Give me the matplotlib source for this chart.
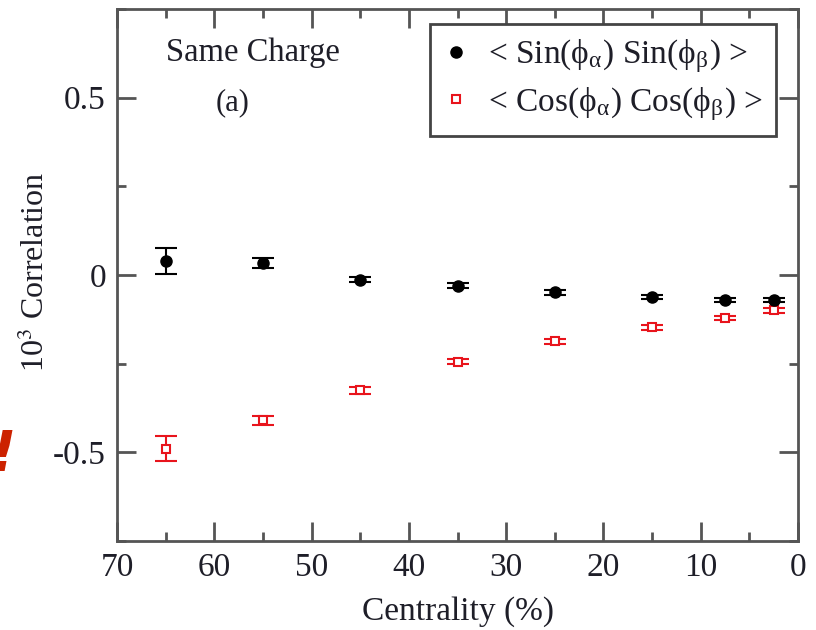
import numpy as np
import matplotlib
matplotlib.use("Agg")
import matplotlib.pyplot as plt
from matplotlib.lines import Line2D
from matplotlib.ticker import MultipleLocator

plt.rcParams['font.family'] = ['Liberation Serif', 'DejaVu Serif']
plt.rcParams['mathtext.fontset'] = 'stix'

# data
centrality = np.array([65, 55, 45, 35, 25, 15, 7.5, 2.5])
sin_sin = np.array([0.040, 0.035, -0.013, -0.030, -0.048, -0.063, -0.070, -0.070])
sin_err = np.array([0.036, 0.014, 0.008, 0.007, 0.007, 0.006, 0.006, 0.006])
cos_cos = np.array([-0.490, -0.410, -0.325, -0.245, -0.187, -0.148, -0.122, -0.100])
cos_err = np.array([0.035, 0.013, 0.010, 0.007, 0.007, 0.007, 0.006, 0.006])

ink = '#1e1e28'
red = '#e8141c'

fig = plt.figure(figsize=(8.16, 6.3), dpi=100)
ax = fig.add_axes([0.1434, 0.1413, 0.8346, 0.8444])

ax.errorbar(centrality, cos_cos, yerr=cos_err, fmt='s', ms=6, mfc='white', mec=red,
            mew=1.5, ecolor=red, elinewidth=1.5, capsize=8, capthick=1.5, zorder=3)
ax.errorbar(centrality, sin_sin, yerr=sin_err, fmt='o', ms=8, color='black',
            ecolor='black', elinewidth=1.5, capsize=8, capthick=1.5, zorder=4)

ax.set_xlim(70, 0)
ax.set_ylim(-0.75, 0.75)
ax.xaxis.set_major_locator(MultipleLocator(10))
ax.xaxis.set_minor_locator(MultipleLocator(5))
ax.yaxis.set_major_locator(MultipleLocator(0.5))
ax.yaxis.set_minor_locator(MultipleLocator(0.25))
ax.yaxis.set_major_formatter(plt.FuncFormatter(lambda v, p: '0' if v == 0 else f'{v:g}'))

ax.tick_params(which='both', direction='in', top=True, right=True, color='#555555',
               width=2, labelsize=24, labelcolor=ink, pad=8)
ax.tick_params(which='major', length=14)
ax.tick_params(which='minor', length=6.5)
for s in ax.spines.values():
    s.set_linewidth(2)
    s.set_color('#555555')

ax.set_xlabel('Centrality (%)', fontsize=24, color=ink, labelpad=10)
ax.set_ylabel(r'10$^3$ Correlation', fontsize=23, color=ink, va='center')
ax.yaxis.set_label_coords(-0.119, 0.506)

ax.text(0.199, 0.917, 'Same Charge', transform=ax.transAxes, fontsize=23.5,
        color=ink, ha='center', va='center')
ax.text(0.169, 0.823, '(a)', transform=ax.transAxes, fontsize=22,
        color=ink, ha='center', va='center')

handles = [
    Line2D([], [], ls='none', marker='o', ms=8, color='black'),
    Line2D([], [], ls='none', marker='s', ms=6, mfc='white', mec=red, mew=1.5),
]
labels = [r'< Sin(ϕ$_{\mathregular{α}}$) Sin(ϕ$_{\mathregular{β}}$) >',
          r'< Cos(ϕ$_{\mathregular{α}}$) Cos(ϕ$_{\mathregular{β}}$) >']
leg = ax.legend(handles, labels, loc='upper right', bbox_to_anchor=(0.9677, 0.9718),
                borderaxespad=0, fontsize=24, fancybox=False, framealpha=1,
                handlelength=0.8, handletextpad=0.55, borderpad=0.4, labelspacing=0.3)
leg.get_frame().set_edgecolor('#444444')
leg.get_frame().set_linewidth(2)
for t in leg.get_texts():
    t.set_color(ink)

fig.text(0.004, 1 - 455 / 630, '!', fontsize=40, color='#cc2200', fontweight='bold',
         style='italic', ha='center', va='center', family=['DejaVu Sans'])

fig.savefig('out.png', dpi=100)
